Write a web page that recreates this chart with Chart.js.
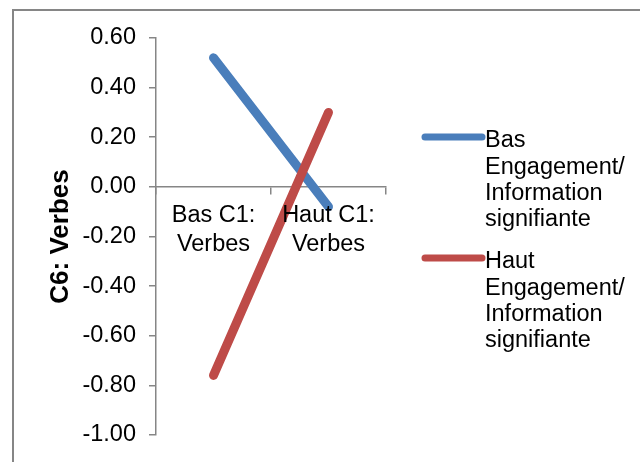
<!DOCTYPE html>
<html>
<head>
<meta charset="utf-8">
<script src="https://cdn.jsdelivr.net/npm/chart.js@4/dist/chart.umd.min.js"></script>
<style>
  html, body { margin: 0; padding: 0; background: #fff; overflow: hidden; }
  #wrap { width: 640px; height: 462px; }
</style>
</head>
<body>
<div id="wrap"><canvas id="c" width="640" height="462"></canvas></div>
<script>
// Categories (x axis), two lines per label
const categories = [["Bas C1:", "Verbes"], ["Haut C1:", "Verbes"]];

// Series
const seriesNames = [
  "Bas\nEngagement/\nInformation\nsignifiante",
  "Haut\nEngagement/\nInformation\nsignifiante"
];
const basEngagement = [0.52, -0.08];
const hautEngagement = [-0.76, 0.30];
const seriesColors = ["#4A7EBB", "#BE4B48"];

// Value axis
const yMin = -1.0;
const yMax = 0.6;
const yStep = 0.2;
const yTitle = "C6: Verbes";

const FONT = "'Liberation Sans', Arial, sans-serif";
const AXIS_GREY = "#868686";

// Outer frame of the chart object
const framePlugin = {
  id: "frame",
  beforeDraw(chart) {
    const ctx = chart.ctx;
    ctx.save();
    ctx.strokeStyle = AXIS_GREY;
    ctx.lineWidth = 2;
    ctx.beginPath();
    ctx.moveTo(13, chart.height + 5);
    ctx.lineTo(13, 10);
    ctx.lineTo(chart.width + 5, 10);
    ctx.stroke();
    ctx.restore();
  }
};

// Legend on the right with multi-line entries
const legendPlugin = {
  id: "sideLegend",
  afterDraw(chart) {
    const ctx = chart.ctx;
    const area = chart.chartArea;
    const x0 = area.right + 39;
    const x1 = x0 + 57;
    const lineStep = 26.3;
    ctx.save();
    chart.data.datasets.forEach((ds, i) => {
      const y = 137 + i * 121;
      ctx.strokeStyle = ds.borderColor;
      ctx.lineWidth = 7;
      ctx.lineCap = "round";
      ctx.beginPath();
      ctx.moveTo(x0, y);
      ctx.lineTo(x1, y);
      ctx.stroke();
      ctx.fillStyle = "#000";
      ctx.font = "23.5px " + FONT;
      ctx.textAlign = "left";
      ctx.textBaseline = "middle";
      ds.label.split("\n").forEach((t, k) => {
        ctx.fillText(t, x1 + 3, y + 4 + k * lineStep);
      });
    });
    ctx.restore();
  }
};

new Chart(document.getElementById("c"), {
  type: "line",
  data: {
    labels: categories,
    datasets: [
      {
        label: seriesNames[0],
        data: basEngagement,
        borderColor: seriesColors[0],
        backgroundColor: seriesColors[0],
        borderWidth: 9,
        borderCapStyle: "round",
        pointRadius: 0,
        tension: 0,
        order: 1
      },
      {
        label: seriesNames[1],
        data: hautEngagement,
        borderColor: seriesColors[1],
        backgroundColor: seriesColors[1],
        borderWidth: 9,
        borderCapStyle: "round",
        pointRadius: 0,
        tension: 0,
        order: 0
      }
    ]
  },
  options: {
    responsive: false,
    animation: false,
    events: [],
    layout: { padding: { left: 0, top: 38, right: 254, bottom: 25 } },
    plugins: { legend: { display: false }, tooltip: { enabled: false } },
    scales: {
      x: {
        type: "category",
        position: { y: 0 },
        offset: true,
        grid: {
          offset: true,
          drawOnChartArea: false,
          drawTicks: true,
          tickLength: 7,
          color: AXIS_GREY,
          lineWidth: 1.5
        },
        border: { display: true, color: AXIS_GREY, width: 1.5 },
        ticks: {
          z: 1,
          color: "#000",
          padding: 8,
          maxRotation: 0,
          autoSkip: false,
          font: { family: FONT, size: 23.5, lineHeight: 1.2 }
        }
      },
      y: {
        min: yMin,
        max: yMax,
        afterFit(scale) { scale.width = 156; },
        grid: {
          drawOnChartArea: false,
          drawTicks: true,
          tickLength: 7,
          color: AXIS_GREY,
          lineWidth: 1.5
        },
        border: { display: true, color: AXIS_GREY, width: 1.5 },
        ticks: {
          stepSize: yStep,
          color: "#000",
          padding: 13,
          font: { family: FONT, size: 23.5 },
          callback: (v) => (Math.abs(v) < 1e-9 ? 0 : v).toFixed(2)
        },
        title: {
          display: true,
          text: yTitle,
          color: "#000",
          padding: { top: 45.5, bottom: 0 },
          font: { family: FONT, size: 26, weight: "bold", lineHeight: 1.2 }
        }
      }
    }
  },
  plugins: [framePlugin, legendPlugin]
});
</script>
</body>
</html>
